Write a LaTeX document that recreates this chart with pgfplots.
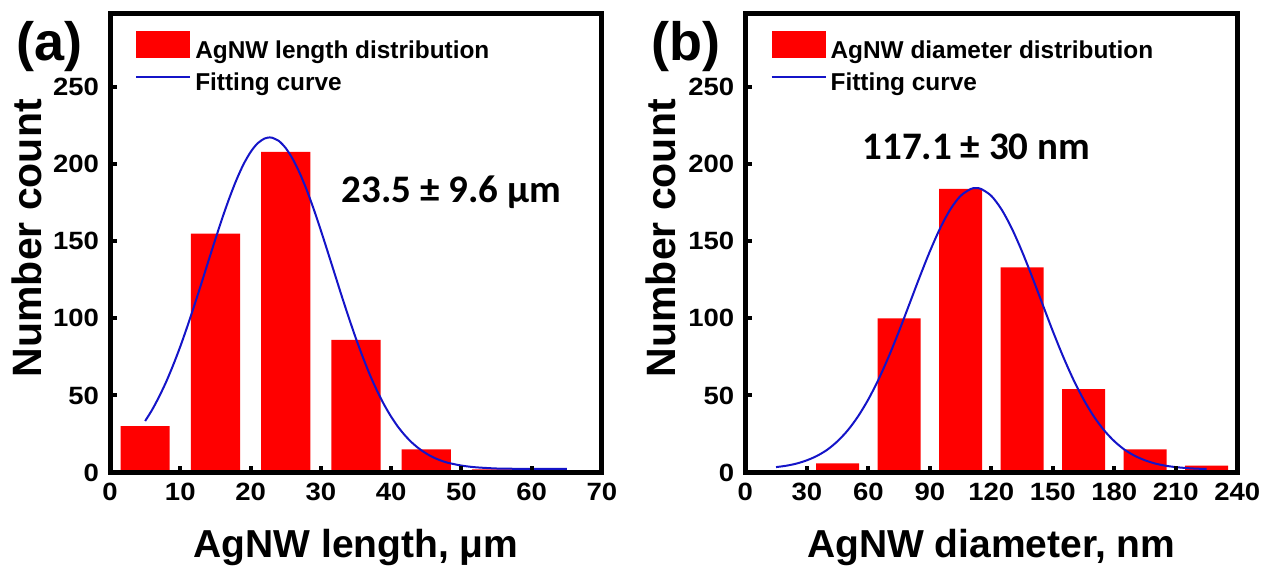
\documentclass[border=0pt]{standalone}
\usepackage{fontspec}
\setmainfont{Liberation Sans}
\newfontfamily\calibri{Carlito}
\newfontfamily\tickfont[FakeStretch=1.1]{Liberation Sans}
\usepackage{pgfplots}
\pgfplotsset{compat=1.18}

\definecolor{barred}{RGB}{255,0,0}
\definecolor{fitblue}{RGB}{20,20,200}

\pgfplotsset{
  histo/.style={
    scale only axis, width=246pt, height=229.75pt,
    anchor=south west,
    ymin=0, ymax=298,
    ytick={0,50,...,250},
    axis line style={line width=2.5pt},
    every tick/.style={line width=2pt, black},
    major tick length=3.5pt,
    tick align=inside,
    xtick pos=bottom, ytick pos=left,
    axis on top,
    clip=false,
    /pgf/number format/assume math mode=true,
    tick label style={font=\tickfont\fontsize{12.5}{14}\selectfont\bfseries},
    xticklabel style={yshift=-1.5pt},
    yticklabel style={xshift=-2pt},
    xlabel style={font=\fontsize{19.5}{22}\selectfont\bfseries,
      at={(axis description cs:0.5,-0.164)}, anchor=center},
    ylabel style={font=\fontsize{20.5}{23}\selectfont\bfseries},
    legend cell align=left,
    legend style={draw=none, fill=none, inner sep=0pt,
      font=\fontsize{12.2}{14}\selectfont\bfseries, row sep=2pt,
      at={(axis description cs:0.051,0.962)}, anchor=north west},
  },
  barkey/.style={legend image code/.code={%
      \fill[barred] (0pt,-3.5pt) rectangle (27pt,10pt);}},
  linekey/.style={legend image code/.code={%
      \draw[fitblue, line width=0.9pt] (0pt,3.2pt) -- (27pt,3.2pt);}},
}

\begin{document}
\begin{tikzpicture}

% (a) length distribution
\begin{axis}[histo, at={(55pt,51.25pt)},
    xmin=0, xmax=70, xtick={0,10,...,70},
    xlabel={AgNW length, μm}, ylabel={Number count},
    ylabel style={at={(axis description cs:-0.168,0.51)}, anchor=center}]
  \addplot[ybar, bar width=7, bar shift=0pt, fill=barred, draw=none, barkey]
    coordinates {(5,30) (15,155) (25,208) (35,86) (45,15) (55,2) (65,1)};
  \addlegendentry{AgNW length distribution}
  \addplot[fitblue, line width=1pt, smooth, linekey] coordinates {
    (5,33.4) (6,40.7) (7,49.3) (8,58.9) (9,69.8) (10,81.7) (11,94.7)
    (12,108.4) (13,122.6) (14,137.1) (15,151.4) (16,165.3) (17,178.2)
    (18,189.9) (19,199.9) (20,207.8) (21,213.5) (22,216.6) (22.7,217.3)
    (23,217.2) (24,215.1) (25,210.4) (26,203.3) (27,194.1) (28,183.1)
    (29,170.6) (30,157.0) (31,142.8) (32,128.4) (33,114.0) (34,100.1)
    (35,86.8) (36,74.5) (37,63.1) (38,53.0) (39,44.0) (40,36.2) (41,29.5)
    (42,23.9) (43,19.2) (44,15.4) (45,12.3) (46,9.8) (47,7.9) (48,6.4)
    (50,4.5) (52,3.4) (55,2.6) (58,2.4) (60,2.3) (65,2.3)};
  \addlegendentry{Fitting curve}
  \node[font=\calibri\bfseries\fontsize{19.5}{22}\selectfont]
    at (axis cs:48.6,181.5) {23.5 ± 9.6 µm};
  \node[font=\fontsize{27}{30}\selectfont\bfseries]
    at (axis description cs:-0.122,0.928) {(a)};
\end{axis}

% (b) diameter distribution
\begin{axis}[histo, at={(372.65pt,51.25pt)},
    xmin=0, xmax=240, xtick={0,30,...,240},
    xlabel={AgNW diameter, nm}, ylabel={Number count},
    ylabel style={at={(axis description cs:-0.171,0.51)}, anchor=center}]
  \addplot[ybar, bar width=21, bar shift=0pt, fill=barred, draw=none, barkey]
    coordinates {(45,6) (75,100) (105,184) (135,133) (165,54) (195,15) (225,4.5)};
  \addlegendentry{AgNW diameter distribution}
  \addplot[fitblue, line width=1pt, smooth, linekey] coordinates {
    (15,3.5) (20,4.4) (25,5.8) (30,7.9) (35,10.8) (40,14.8) (45,20.3)
    (50,27.4) (55,36.4) (60,47.4) (65,60.4) (70,75.3) (75,91.7) (80,109.1)
    (85,126.6) (90,143.3) (95,158.3) (100,170.6) (105,179.4) (110,183.9)
    (112.5,184.5) (115,183.9) (120,179.4) (125,170.6) (130,158.3)
    (135,143.3) (140,126.6) (145,109.1) (150,91.7) (155,75.3) (160,60.4)
    (165,47.4) (170,36.4) (175,27.4) (180,20.3) (185,14.8) (190,10.8)
    (195,7.9) (200,5.8) (205,4.4) (210,3.5) (215,2.9) (220,2.5) (225,2.3)};
  \addlegendentry{Fitting curve}
  \node[font=\calibri\bfseries\fontsize{19.5}{22}\selectfont]
    at (axis cs:112.7,211) {117.1 ± 30 nm};
  \node[font=\fontsize{27}{30}\selectfont\bfseries]
    at (axis description cs:-0.1205,0.928) {(b)};
\end{axis}

\pgfresetboundingbox
\path (0pt,0pt) rectangle (632.5pt,287.5pt);
\end{tikzpicture}
\end{document}
